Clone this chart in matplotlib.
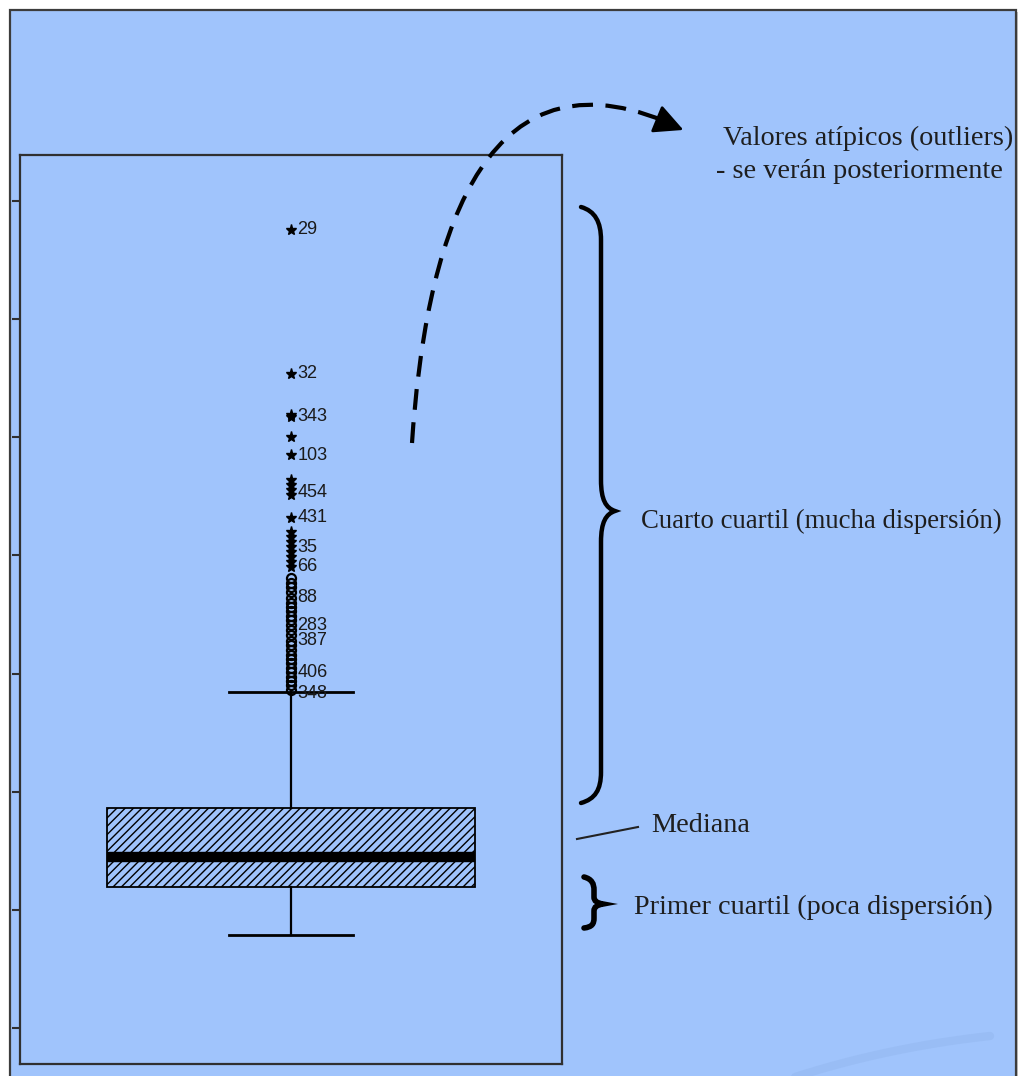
import numpy as np
import matplotlib
matplotlib.use("Agg")
import matplotlib.pyplot as plt
from matplotlib.path import Path
from matplotlib.patches import PathPatch, Rectangle, FancyArrowPatch
from matplotlib import font_manager

# ---------------- data ----------------
box_q1 = 11.93
box_median = 14.47
box_q3 = 18.62
whisker_low = 7.87
whisker_high = 28.44

extreme_values = [67.55, 55.36, 51.9, 51.7, 50.03, 48.5, 46.39, 45.96, 45.54,
                  45.12, 43.17, 41.98, 41.56, 41.14, 40.71, 40.29, 39.87,
                  39.45, 39.03]
mild_values = [38.1, 37.7, 37.3, 36.9, 36.4, 36.0, 35.6, 35.3, 34.9, 34.5,
               34.1, 33.7, 33.3, 32.8, 32.4, 32.0, 31.6, 31.2, 30.9, 30.5,
               30.1, 29.7, 29.4, 29.0, 28.6]
label_values = [67.55, 55.36, 51.8, 48.5, 45.3, 43.17, 40.71, 39.03,
                36.4, 34.1, 32.8, 30.1, 28.3]
label_texts = ["29", "32", "343", "103", "454", "431", "35", "66",
               "88", "283", "387", "406", "348"]
y_ticks = [0, 10, 20, 30, 40, 50, 60, 70]

# ---------------- styling ----------------
W, H = 1021, 1076
BG = "#a0c4fc"
plt.rcParams["hatch.linewidth"] = 1.0

available = {f.name for f in font_manager.fontManager.ttflist}
narrow = "Liberation Sans Narrow" if "Liberation Sans Narrow" in available else "Liberation Sans"
serif = "Liberation Serif"

fig = plt.figure(figsize=(W / 100, H / 100), dpi=100, facecolor="white")

# background slide frame
bg = fig.add_axes([0, 0, 1, 1], zorder=-5)
bg.set_xlim(0, W); bg.set_ylim(H, 0); bg.axis("off")
bg.add_patch(Rectangle((12, 12), 1006, 1080, facecolor="#9a9a9a", edgecolor="none", alpha=0.6))
bg.add_patch(Rectangle((10, 10), 1006, 1080, facecolor=BG, edgecolor="#3c3c3c", linewidth=1.6))
# faint swoosh
t = np.linspace(0, 1, 60)
sx = (1 - t) ** 2 * 780 + 2 * (1 - t) * t * 880 + t ** 2 * 990
sy = (1 - t) ** 2 * 1082 + 2 * (1 - t) * t * 1048 + t ** 2 * 1036
bg.plot(sx, sy, color="#8aaee6", lw=6, alpha=0.3, solid_capstyle="round")

# ---------------- main box plot ----------------
ax = fig.add_axes([20 / W, (H - 1064) / H, 542 / W, (1064 - 155) / H], zorder=1)
ax.set_facecolor(BG)
stats = [dict(med=box_median, q1=box_q1, q3=box_q3,
              whislo=whisker_low, whishi=whisker_high, fliers=[])]
ax.bxp(stats, positions=[0.5], widths=0.679, capwidths=0.227,
       showfliers=False, patch_artist=True,
       boxprops=dict(facecolor=BG, edgecolor="black", hatch="////", linewidth=1.3),
       medianprops=dict(color="black", linewidth=7.5, solid_capstyle="butt"),
       whiskerprops=dict(color="black", linewidth=1.6),
       capprops=dict(color="black", linewidth=2.0))
ax.plot([0.5] * len(mild_values), mild_values, linestyle="none", marker="o",
        markersize=6.5, markerfacecolor="none", markeredgecolor="black",
        markeredgewidth=1.6)
ax.plot([0.5] * len(extreme_values), extreme_values, linestyle="none", marker="*",
        markersize=8, color="black")
for v, lab in zip(label_values, label_texts):
    ax.annotate(lab, (0.5, v), xytext=(4.5, 0), textcoords="offset points",
                va="center", ha="left", fontsize=13, family=narrow, color="#1a1a1a")

ax.set_xlim(0, 1)
ax.set_ylim((1028 - 1064) / 11.814, (1028 - 155) / 11.814)
ax.set_yticks(y_ticks)
ax.set_yticklabels([])
ax.set_xticks([])
ax.tick_params(axis="y", direction="out", length=6, width=1.5, color="#303030")
for s in ax.spines.values():
    s.set_linewidth(1.6)
    s.set_color("#303030")

# ---------------- annotation overlay ----------------
ov = fig.add_axes([0, 0, 1, 1], zorder=5)
ov.set_xlim(0, W); ov.set_ylim(H, 0); ov.axis("off")

C4 = Path.CURVE4
L = Path.LINETO
M = Path.MOVETO

# dashed curved arrow
arrow_path = Path([(412, 443), (425, 250), (478, 45), (664, 121)], [M, C4, C4, C4])
ov.add_patch(PathPatch(arrow_path, facecolor="none", edgecolor="black", lw=3,
                       linestyle=(0, (5, 3))))
ov.add_patch(FancyArrowPatch((664, 122), (686, 131),
                             arrowstyle="-|>,head_length=0.9,head_width=0.45",
                             mutation_scale=20, color="black", lw=2))

# big brace
big = Path([(581, 207), (595, 211), (601, 222), (601, 240), (601, 480),
            (601, 500), (606, 508), (615, 511), (606, 514), (601, 522), (601, 542),
            (601, 772), (601, 790), (595, 799), (581, 803)],
           [M, C4, C4, C4, L, C4, C4, C4, C4, C4, C4, L, C4, C4, C4])
ov.add_patch(PathPatch(big, facecolor="none", edgecolor="black", lw=3.2, capstyle="round"))

# small brace
small = Path([(584, 877), (592, 879), (594, 884), (594, 890), (594, 897),
              (594, 901), (597, 903), (603, 904), (597, 905), (594, 907), (594, 911),
              (594, 918), (594, 924), (592, 927), (584, 928)],
             [M, C4, C4, C4, L, C4, C4, C4, C4, C4, C4, L, C4, C4, C4])
ov.add_patch(PathPatch(small, facecolor="none", edgecolor="black", lw=4, capstyle="round"))

# median pointer line
ov.plot([577, 638], [839, 827], color="#222222", lw=1.5)

txt_kw = dict(family=serif, color="#1e1e1e", va="center", ha="left")
ov.text(723, 138, "Valores atípicos (outliers)", fontsize=20.3, **txt_kw)
ov.text(716, 172, "- se verán posteriormente", fontsize=20.3, **txt_kw)
ov.text(641, 521, "Cuarto cuartil (mucha dispersión)", fontsize=19.3, **txt_kw)
ov.text(651, 826, "Mediana", fontsize=20.3, **txt_kw)
ov.text(634, 907, "Primer cuartil (poca dispersión)", fontsize=20.3, **txt_kw)

fig.savefig("out.png", dpi=100, facecolor="white")
